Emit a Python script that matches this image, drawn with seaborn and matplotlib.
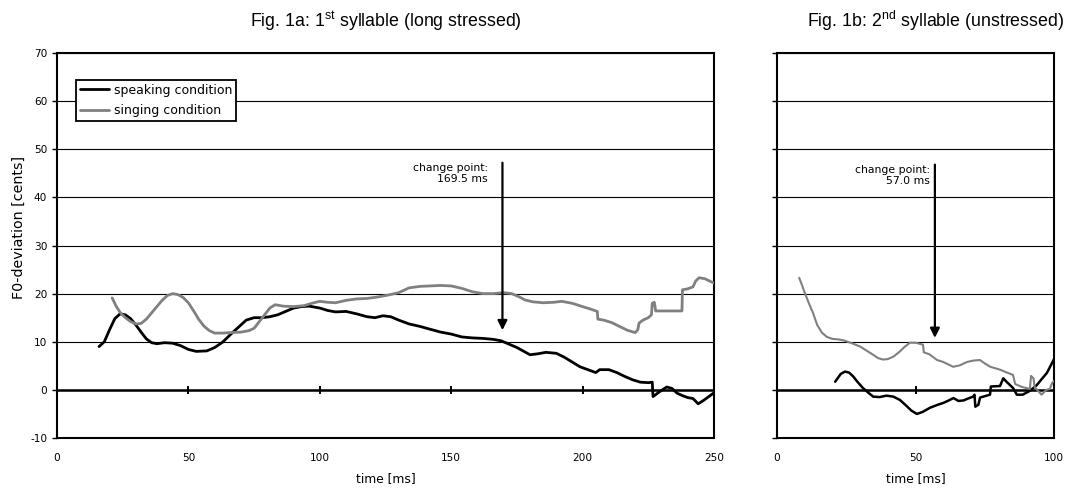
import numpy as np
import pandas as pd
import matplotlib
matplotlib.use("Agg")
import matplotlib.pyplot as plt
import seaborn as sns

# ---------------- data ----------------
a_speak_t = [16, 18, 20, 22, 24, 26, 28, 30, 32, 34, 36, 38, 41, 44, 47, 50, 53, 57, 60, 63, 66, 69, 72, 75, 78,
             81, 84, 87, 90, 93, 96, 100, 103, 106, 110, 114, 118, 121, 124, 127, 130, 134, 138, 142, 146, 150,
             154, 158, 162, 166, 169, 172, 175, 178, 180, 183, 186, 190, 193, 196, 199, 202, 205, 206.5, 210,
             213, 216, 219, 222, 225, 226.5, 226.8, 229, 232, 234, 236, 238, 240, 242, 244, 246, 248, 250]
a_speak_y = [9, 10, 12.5, 14.8, 15.8, 15.6, 14.8, 13.5, 12, 10.6, 9.8, 9.6, 9.8, 9.7, 9.2, 8.4, 8, 8.1, 8.8, 9.9,
             11.5, 13, 14.5, 15, 15, 15.2, 15.6, 16.3, 17, 17.3, 17.4, 17, 16.5, 16.2, 16.3, 15.8, 15.2, 15, 15.4,
             15.2, 14.5, 13.7, 13.2, 12.6, 12, 11.6, 11, 10.8, 10.7, 10.5, 10.2, 9.5, 8.8, 7.9, 7.3, 7.5, 7.8,
             7.6, 6.8, 5.8, 4.8, 4.2, 3.6, 4.2, 4.2, 3.6, 2.8, 2.1, 1.6, 1.5, 1.6, -1.4, -0.5, 0.6, 0.3, -0.7,
             -1.2, -1.6, -1.8, -2.9, -2.2, -1.4, -0.6]

a_sing_t = [21, 22.5, 24, 26, 28, 30, 32, 34, 36, 38, 40, 42, 44, 46, 48, 50, 52, 54, 56, 58, 60, 63, 66, 70, 73,
            75, 77, 79, 81, 83, 86, 90, 94, 97, 100, 103, 106, 110, 114, 118, 122, 126, 130, 134, 138, 142, 146,
            150, 154, 158, 162, 166, 170, 173, 176, 178, 181, 185, 189, 192, 196, 200, 203, 205.6, 205.8, 208,
            211, 214, 217, 220, 221, 221.5, 223, 225, 226.2, 226.5, 227.3, 227.8, 231, 234, 237.8, 238, 240,
            242, 243, 244.3, 246.5, 248, 250]
a_sing_y = [19.1, 17.4, 16.1, 15, 14.2, 13.7, 13.8, 14.7, 16, 17.3, 18.6, 19.6, 20, 19.8, 19.2, 18.1, 16.4, 14.6,
            13.2, 12.3, 11.8, 11.8, 11.9, 12, 12.3, 12.8, 14.2, 15.6, 17, 17.7, 17.4, 17.3, 17.5, 18, 18.4, 18.2,
            18.1, 18.6, 18.9, 19, 19.3, 19.7, 20.2, 21.2, 21.5, 21.6, 21.7, 21.6, 21.1, 20.4, 20, 20, 20.2, 20,
            19.3, 18.7, 18.3, 18.1, 18.2, 18.4, 18, 17.3, 16.8, 16.3, 14.7, 14.5, 14, 13.2, 12.4, 11.9, 12.5,
            13.9, 14.5, 15, 15.6, 18, 18.2, 16.4, 16.4, 16.4, 16.4, 20.8, 21, 21.4, 22.6, 23.3, 23.1, 22.7, 22.2]

b_speak_t = [21, 23, 24.5, 26, 27.5, 29, 31, 33, 34.7, 37, 39.5, 42, 44.4, 46.5, 48.5, 50.5, 52.5, 55.3, 58, 60.1,
             62, 63.7, 65.5, 67.3, 69, 70.8, 71.3, 71.6, 72.7, 73.3, 76.9, 77.2, 80.5, 81.7, 83, 85.2, 86.6,
             88.7, 90, 91.3, 93.8, 95.5, 97.4, 98.6, 100]
b_speak_y = [1.7, 3.3, 3.8, 3.6, 2.8, 1.7, 0.4, -0.6, -1.4, -1.5, -1.2, -1.4, -2.1, -3.2, -4.3, -5, -4.6, -3.7,
             -3.1, -2.7, -2.2, -1.7, -2.3, -2.2, -1.8, -1.4, -1, -3.5, -3.1, -1.6, -1.0, 0.7, 0.8, 2.4, 1.6,
             0.4, -1, -1, -0.6, -0.2, 1, 2.2, 3.5, 4.8, 6.4]

b_sing_t = [8, 9, 10, 11.5, 13, 14.5, 16.2, 18, 20, 22, 24, 27, 30, 32.5, 34.7, 36.5, 38.3, 40, 42, 44, 46, 48, 50,
            52.7, 53, 55, 57.8, 60, 63.6, 66, 68.6, 71, 73.3, 75, 77, 80.5, 83, 85.2, 86, 88.5, 91.3, 91.7,
            92.6, 93, 95.5, 97.2, 98.5, 99.3, 100]
b_sing_y = [23.3, 21.8, 20.2, 18, 16, 13.5, 11.9, 11, 10.6, 10.5, 10.3, 9.7, 9, 8.1, 7.3, 6.6, 6.3, 6.4, 6.9, 7.8,
            8.9, 9.8, 9.8, 9.4, 7.8, 7.4, 6.2, 5.8, 4.8, 5.1, 5.8, 6.1, 6.2, 5.5, 4.8, 4.2, 3.6, 3.1, 1.2, 0.6,
            0.2, 2.9, 2.4, 0.6, -1, 0, 0.2, 1.4, 1.9]

series_names = ["speaking condition", "singing condition"]
series_colors = ["#000000", "#808080"]

change_a = 169.5
change_b = 57.0

# ---------------- style ----------------
sns.set_style("white")
plt.rcParams['font.family'] = ['DejaVu Sans']
plt.rcParams['axes.unicode_minus'] = False
plt.rcParams['text.color'] = 'black'
plt.rcParams['axes.labelcolor'] = 'black'
plt.rcParams['xtick.color'] = 'black'
plt.rcParams['ytick.color'] = 'black'
plt.rcParams['mathtext.fontset'] = 'custom'
plt.rcParams['mathtext.rm'] = 'Liberation Sans'
plt.rcParams['mathtext.it'] = 'Liberation Sans:italic'

W, H = 1066, 488
fig = plt.figure(figsize=(W / 100, H / 100), dpi=100)
ax_a = fig.add_axes([57 / W, 1 - 438 / H, (714 - 57) / W, (438 - 53) / H])
ax_b = fig.add_axes([777 / W, 1 - 438 / H, (1054 - 777) / W, (438 - 53) / H])


def make_df(ts, ys):
    rows = []
    for name, t, y in zip(series_names, ts, ys):
        rows.append(pd.DataFrame({"time": t, "dev": y, "cond": name}))
    return pd.concat(rows, ignore_index=True)


df_a = make_df([a_speak_t, a_sing_t], [a_speak_y, a_sing_y])
df_b = make_df([b_speak_t, b_sing_t], [b_speak_y, b_sing_y])

pal = dict(zip(series_names, series_colors))
TICK_FS = 7.6
LABEL_FS = 8.8

for ax, df, xmax, xticks, lw in [(ax_a, df_a, 250, [0, 50, 100, 150, 200, 250], 2.0),
                                  (ax_b, df_b, 100, [0, 50, 100], 1.8)]:
    sns.lineplot(data=df, x="time", y="dev", hue="cond", palette=pal, estimator=None, sort=False,
                 linewidth=lw, ax=ax, legend=(ax is ax_a), zorder=3)
    ax.set_xlim(0, xmax)
    ax.set_ylim(-10, 70)
    ax.set_yticks(np.arange(-10, 71, 10))
    ax.set_xticks(xticks)
    ax.yaxis.grid(True, color="black", linewidth=0.8)
    ax.xaxis.grid(False)
    ax.axhline(0, color="black", linewidth=1.8, zorder=2)
    inner = [x for x in xticks if 0 < x < xmax]
    ax.vlines(inner, -0.8, 0.8, color="black", linewidth=1.4, zorder=2)
    for s in ax.spines.values():
        s.set_visible(True)
        s.set_color("black")
        s.set_linewidth(1.5)
    ax.tick_params(axis="x", length=0, pad=11, labelsize=TICK_FS, labelcolor="black")
    ax.tick_params(axis="y", direction="out", length=3.5, width=1, labelsize=TICK_FS, left=True,
                   color="black", labelcolor="black")
    ax.set_xlabel("time [ms]", fontsize=LABEL_FS, labelpad=6, color="black")
    ax.set_ylabel("")

# thinner grey line in the right panel
ax_b.lines[1].set_linewidth(1.5)

ax_b.tick_params(axis="y", labelleft=False)
ax_a.set_ylabel("F0-deviation [cents]", fontsize=10.3, color="black")
ax_a.yaxis.set_label_coords(-0.047, 0.548)

# legend
leg = ax_a.legend(loc="upper left", bbox_to_anchor=(0.029, 0.93), borderaxespad=0, fontsize=9,
                  frameon=True, fancybox=False, edgecolor="black", framealpha=1, handlelength=2.3,
                  handletextpad=0.4, borderpad=0.3, labelspacing=0.6)
leg.get_frame().set_linewidth(1.3)
for h in leg.get_lines():
    h.set_linewidth(2.0)
for t in leg.get_texts():
    t.set_color("black")

# annotations (change points)
arrow_kw = dict(arrowstyle="-|>", color="black", lw=1.6, mutation_scale=14, shrinkA=0, shrinkB=0)
ax_a.annotate("", xy=(change_a, 12.4), xytext=(change_a, 47.2), arrowprops=arrow_kw, zorder=5)
ax_a.text(change_a - 5.5, 47.2, "change point:\n%.1f ms" % change_a, ha="right", va="top",
          fontsize=7.8, linespacing=1.2, color="black")
ax_b.annotate("", xy=(change_b, 10.8), xytext=(change_b, 46.8), arrowprops=arrow_kw, zorder=5)
ax_b.text(change_b - 1.8, 46.8, "change point:\n%.1f ms" % change_b, ha="right", va="top",
          fontsize=7.8, linespacing=1.2, color="black")

# titles
fig.text(385.5 / W, 1 - 21 / H, r"Fig. 1a: 1$^{\mathrm{st}}$ syllable (long stressed)",
         ha="center", va="center", fontsize=12.8, family="Liberation Sans", color="black")
fig.text(936 / W, 1 - 21 / H, r"Fig. 1b: 2$^{\mathrm{nd}}$ syllable (unstressed)",
         ha="center", va="center", fontsize=12.8, family="Liberation Sans", color="black")

fig.savefig("out.png", dpi=100)
